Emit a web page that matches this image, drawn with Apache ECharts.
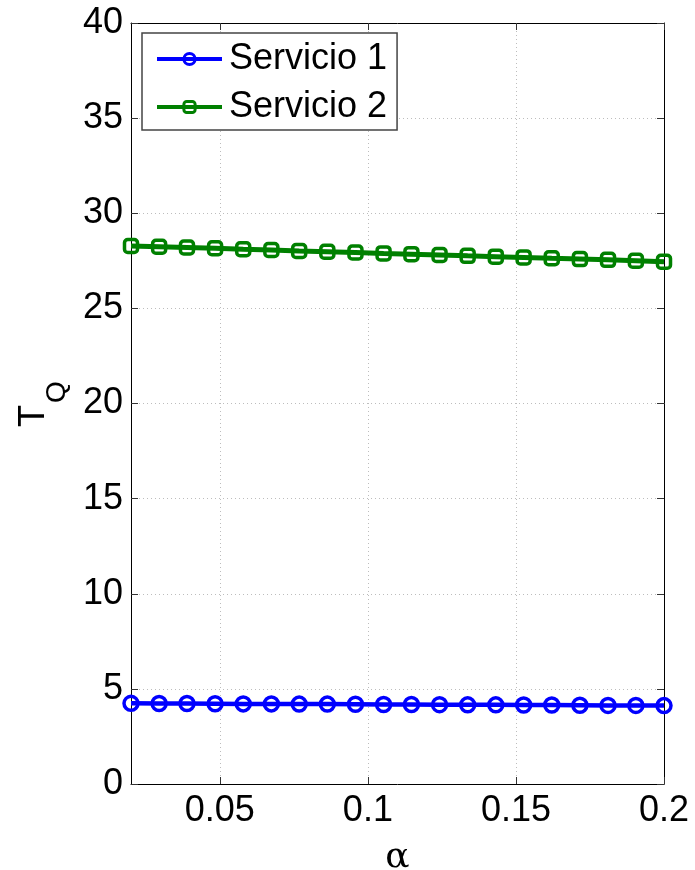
<!DOCTYPE html>
<html>
<head>
<meta charset="utf-8">
<script src="https://cdn.jsdelivr.net/npm/echarts@6/dist/echarts.min.js"></script>
<style>html,body{margin:0;padding:0;background:#fff}#c{width:695px;height:870px}</style>
</head>
<body>
<div id="c"></div>
<script>
var alpha = [0.02, 0.0295, 0.0389, 0.0484, 0.0579, 0.0674, 0.0768, 0.0863, 0.0958, 0.1053,
             0.1147, 0.1242, 0.1337, 0.1432, 0.1526, 0.1621, 0.1716, 0.1811, 0.1905, 0.2];
var servicio1 = [4.24, 4.23, 4.23, 4.22, 4.21, 4.21, 4.20, 4.20, 4.19, 4.18,
                 4.18, 4.17, 4.16, 4.16, 4.15, 4.15, 4.14, 4.13, 4.13, 4.12];
var servicio2 = [28.28, 28.24, 28.20, 28.16, 28.11, 28.07, 28.02, 27.98, 27.94, 27.89,
                 27.85, 27.81, 27.76, 27.72, 27.68, 27.63, 27.59, 27.55, 27.50, 27.45];
var xTicks = [0.05, 0.1, 0.15, 0.2];
var seriesNames = ['Servicio 1', 'Servicio 2'];
var yTitleMain = 'T', yTitleSub = 'Q';

var FONT = 'Liberation Sans';
function pairs(ys) { return alpha.map(function (x, i) { return [x, ys[i]]; }); }

var chart = echarts.init(document.getElementById('c'));
var tickStyle = { show: true, inside: true, length: 7, lineStyle: { color: '#333', width: 1 } };
chart.setOption({
  animation: false,
  backgroundColor: '#fff',
  grid: { left: 131, right: 31, top: 23, bottom: 86, containLabel: false, outerBoundsMode: 'none' },
  graphic: [{
    type: 'text', x: 34, y: 416, rotation: Math.PI / 2,
    style: { text: yTitleMain, font: '36px "Liberation Sans"', fill: '#000', textAlign: 'center', textVerticalAlign: 'middle' }
  }, {
    type: 'text', x: 57, y: 392, rotation: Math.PI / 2,
    style: { text: yTitleSub, font: '28px "Liberation Sans"', fill: '#000', textAlign: 'center', textVerticalAlign: 'middle' }
  }],
  xAxis: [{
    type: 'value', min: 0.02, max: 0.2,
    name: 'α', nameLocation: 'middle', nameGap: 56,
    nameTextStyle: { fontFamily: 'DejaVu Serif', fontSize: 36, color: '#000' },
    axisLine: { show: true, onZero: false, lineStyle: { color: '#000', width: 1 } },
    axisTick: Object.assign({ customValues: xTicks }, tickStyle),
    axisLabel: { customValues: xTicks, fontFamily: FONT, fontSize: 36, color: '#000', margin: 9,
      formatter: function (v) { return String(+v.toFixed(2)); } },
    splitLine: { show: true, lineStyle: { color: '#bdbdbd', type: [1, 3], width: 1 } }
  }, {
    type: 'value', min: 0.02, max: 0.2, position: 'top',
    axisLine: { show: true, onZero: false, lineStyle: { color: '#000', width: 1 } },
    axisTick: Object.assign({ customValues: xTicks }, tickStyle),
    axisLabel: { show: false, customValues: xTicks },
    splitLine: { show: false }
  }],
  yAxis: [{
    type: 'value', min: 0, max: 40, interval: 5,
    axisLine: { show: true, onZero: false, lineStyle: { color: '#000', width: 1 } },
    axisTick: tickStyle,
    axisLabel: { fontFamily: FONT, fontSize: 36, color: '#000', margin: 8 },
    splitLine: { show: true, lineStyle: { color: '#bdbdbd', type: [1, 3], width: 1 } }
  }, {
    type: 'value', min: 0, max: 40, interval: 5, position: 'right',
    axisLine: { show: true, onZero: false, lineStyle: { color: '#000', width: 1 } },
    axisTick: tickStyle,
    axisLabel: { show: false },
    splitLine: { show: false }
  }],
  legend: {
    left: 142, top: 33, orient: 'vertical',
    padding: [8, 10, 5, 13], itemGap: 12,
    itemWidth: 65, itemHeight: 14,
    backgroundColor: '#fff', borderColor: '#444', borderWidth: 1.5,
    textStyle: { fontFamily: FONT, fontSize: 36, color: '#000', padding: [0, 0, 0, 2] },
    data: [
      { name: seriesNames[0], lineStyle: { width: 4 }, itemStyle: { borderWidth: 3 } },
      { name: seriesNames[1], lineStyle: { width: 4 }, itemStyle: { borderWidth: 3 } }
    ]
  },
  series: [{
    name: seriesNames[0], type: 'line', data: pairs(servicio1),
    symbol: 'circle', symbolSize: 14,
    color: '#0000ff',
    lineStyle: { color: '#0000ff', width: 4.5 },
    itemStyle: { color: 'rgba(255,255,255,0)', borderColor: '#0000ff', borderWidth: 3.5 },
    z: 3
  }, {
    name: seriesNames[1], type: 'line', data: pairs(servicio2),
    symbol: 'roundRect', symbolSize: 13,
    color: '#008000',
    lineStyle: { color: '#008000', width: 5 },
    itemStyle: { color: 'rgba(255,255,255,0)', borderColor: '#008000', borderWidth: 3.5 },
    z: 3
  }]
});
</script>
</body>
</html>
